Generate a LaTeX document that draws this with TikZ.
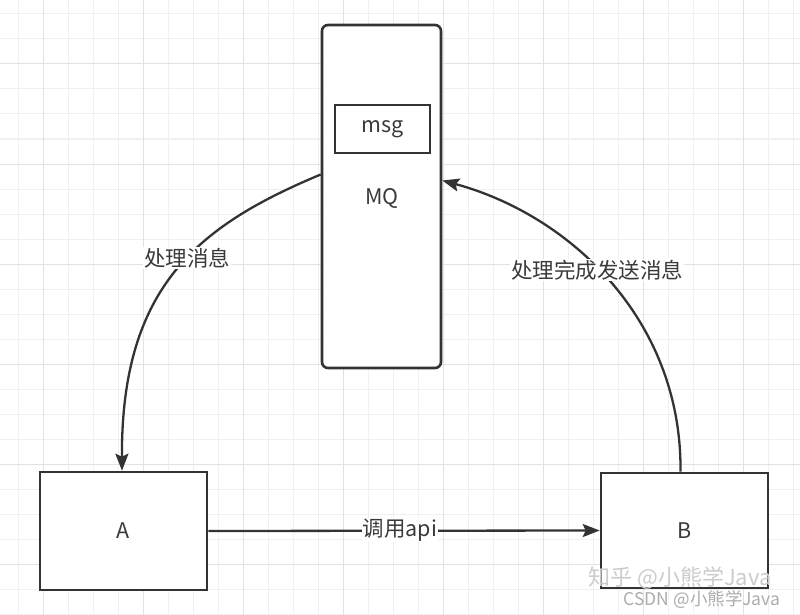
\documentclass[tikz,border=0pt]{standalone}
\usepackage{fontspec}
\setmainfont{Noto Sans CJK SC}
\usetikzlibrary{arrows.meta}
\definecolor{ink}{HTML}{333333}
\definecolor{txt}{HTML}{3A3A3A}
\definecolor{gminor}{HTML}{F0F0F0}
\definecolor{gmajor}{HTML}{E2E2E2}
\begin{document}
\begin{tikzpicture}[x=1pt,y=-1pt,
  minorline/.style={draw=gminor,line width=1pt},
  majorline/.style={draw=gmajor,line width=1pt},
  txtfont/.style={text=txt,font=\fontsize{21.5}{24}\selectfont},
  box/.style={draw=ink,line width=2.6pt,fill=white,inner sep=0pt,txtfont},
  lab/.style={fill=white,inner sep=1pt,txtfont},
  conn/.style={draw=ink,line width=2.3pt,-{Stealth[length=17pt,width=13pt,inset=3pt]}},
  wm/.style={inner sep=0pt}]
\useasboundingbox (0,0) rectangle (800,615);
\fill[white] (0,0) rectangle (800,615);
\foreach \x in {18,43,...,793} \draw[minorline] (\x,0) -- (\x,615);
\foreach \y in {14,39,...,614} \draw[minorline] (0,\y) -- (800,\y);
\foreach \x in {43,143,...,743} \draw[majorline] (\x,0) -- (\x,615);
\foreach \y in {64,164,...,564} \draw[majorline] (0,\y) -- (800,\y);

\node[box,rounded corners=6pt,minimum width=119pt,minimum height=343pt] (mq) at (381.5,196.5) {};
\node[box,minimum width=95pt,minimum height=48pt] (msg) at (382.5,129) {msg};
\node[txtfont] (mqt) at (382,198) {MQ};
\node[box,minimum width=167pt,minimum height=118pt] (a) at (123.5,531) {A};
\node[box,minimum width=167pt,minimum height=115pt] (b) at (684.5,530.5) {B};

\draw[conn] ([yshift=22pt]mq.west) .. controls (200,225) and (121,285) .. ([xshift=-1.5pt]a.north);
\draw[conn] ([xshift=-4pt]b.north) .. controls (682,320) and (570,215) .. ([yshift=16pt]mq.east);
\draw[conn] (a.east) -- (b.west);

\node[lab] (l1) at (187,258) {处理消息};
\node[lab] (l2) at (597,270) {处理完成发送消息};
\node[lab] (l3) at (400,530) {调用api};

\node[wm,text=gray!40,font=\fontsize{22}{24}\selectfont] (w1) at (680,578) {知乎 @小熊学Java};
\node[wm,text=gray!65,font=\fontsize{17.5}{20}\selectfont] (w2) at (702,600) {CSDN @小熊学Java};
\end{tikzpicture}
\end{document}
